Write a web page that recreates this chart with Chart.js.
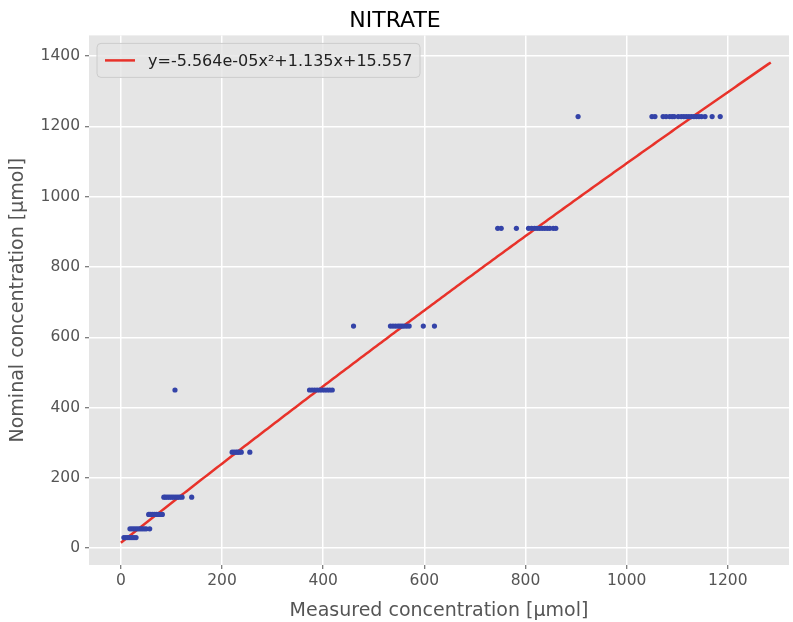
<!DOCTYPE html>
<html>
<head>
<meta charset="utf-8">
<title>NITRATE</title>
<script src="https://cdn.jsdelivr.net/npm/chart.js@4.4.1/dist/chart.umd.min.js"></script>
<style>
  html, body { margin: 0; padding: 0; background: #fff; }
  #wrap { width: 793px; height: 622px; }
</style>
</head>
<body>
<div id="wrap"><canvas id="nitrateChart" width="793" height="622"></canvas></div>
<script>
// measured vs nominal concentration samples
const measured = [
    6, 10, 14, 18, 22, 26, 30,
    18, 22, 26, 30, 34, 38, 42, 46, 50, 57,
    55, 58, 62, 66, 70, 74, 78, 82,
    85, 88, 92, 96, 100, 104, 108, 112, 116, 121, 140,
    107,
    220, 224, 228, 231, 234, 238, 255,
    373, 378, 383, 388, 393, 398, 403, 408, 413, 418,
    460, 533, 538, 543, 548, 552, 556, 560, 565, 570, 598, 620,
    745, 752, 782, 806, 812, 818, 823, 828, 833, 838, 843, 848, 855, 860,
    904, 1050, 1056, 1072, 1078, 1085, 1090, 1094, 1102, 1108, 1113, 1118, 1123, 1128, 1133, 1138, 1143, 1148, 1155, 1169, 1185
];
const nominal = [
    30, 30, 30, 30, 30, 30, 30,
    55, 55, 55, 55, 55, 55, 55, 55, 55, 55,
    96, 96, 96, 96, 96, 96, 96, 96,
    145, 145, 145, 145, 145, 145, 145, 145, 145, 145, 145,
    450,
    273, 273, 273, 273, 273, 273, 273,
    450, 450, 450, 450, 450, 450, 450, 450, 450, 450,
    632, 632, 632, 632, 632, 632, 632, 632, 632, 632, 632, 632,
    910, 910, 910, 910, 910, 910, 910, 910, 910, 910, 910, 910, 910, 910,
    1228, 1228, 1228, 1228, 1228, 1228, 1228, 1228, 1228, 1228, 1228, 1228, 1228, 1228, 1228, 1228, 1228, 1228, 1228, 1228, 1228
];

// quadratic fit: a*x^2 + b*x + c, drawn over this measured range
const fitCoeffs = [-5.564e-05, 1.135, 15.557];
const fitRange = [0, 1285];

const xTicks = [0, 200, 400, 600, 800, 1000, 1200];
const yTicks = [0, 200, 400, 600, 800, 1000, 1200, 1400];

function sciLabel(v) {
    const [m, e] = v.toExponential(3).split('e');
    const sign = e[0] === '-' ? '-' : '+';
    const digits = e.replace(/[+-]/, '').padStart(2, '0');
    return `${m}e${sign}${digits}`;
}
const fitLabel = `y=${sciLabel(fitCoeffs[0])}x²+${fitCoeffs[1]}x+${fitCoeffs[2]}`;

const fitPoints = [];
for (let x = fitRange[0]; x <= fitRange[1]; x += 5) {
    fitPoints.push({ x: x, y: fitCoeffs[0] * x * x + fitCoeffs[1] * x + fitCoeffs[2] });
}
const scatterPoints = measured.map((m, i) => ({ x: m, y: nominal[i] }));

const FONT = 'DejaVu Sans';

const plotBackground = {
    id: 'plotBackground',
    beforeDraw(chart) {
        const { ctx, chartArea: a } = chart;
        ctx.save();
        ctx.fillStyle = '#e5e5e5';
        ctx.fillRect(a.left, a.top, a.right - a.left, a.bottom - a.top);
        ctx.restore();
    }
};

// matplotlib-style legend box in the upper left corner
const fitLegend = {
    id: 'fitLegend',
    afterDatasetsDraw(chart) {
        const { ctx, chartArea: a } = chart;
        const x = a.left + 8, y = a.top + 8, w = 323, h = 34;
        ctx.save();
        ctx.beginPath();
        ctx.roundRect(x, y, w, h, 4);
        ctx.fillStyle = 'rgba(229,229,229,0.8)';
        ctx.fill();
        ctx.strokeStyle = '#cccccc';
        ctx.lineWidth = 1;
        ctx.stroke();
        ctx.beginPath();
        ctx.moveTo(x + 8, y + h / 2);
        ctx.lineTo(x + 38, y + h / 2);
        ctx.strokeStyle = '#e8322a';
        ctx.lineWidth = 2.5;
        ctx.stroke();
        ctx.fillStyle = '#222';
        ctx.font = `16px "${FONT}"`;
        ctx.textBaseline = 'middle';
        ctx.fillText(fitLabel, x + 51, y + h / 2 + 1);
        ctx.restore();
    }
};

const plainTick = v => String(v);

const ctx = document.getElementById('nitrateChart').getContext('2d');
new Chart(ctx, {
    type: 'scatter',
    data: {
        datasets: [
            {
                type: 'line',
                data: fitPoints,
                borderColor: '#e8322a',
                borderWidth: 2.5,
                pointRadius: 0,
                tension: 0,
                fill: false,
                order: 2
            },
            {
                data: scatterPoints,
                backgroundColor: '#3443a8',
                borderColor: '#3443a8',
                borderWidth: 0,
                pointRadius: 2.6,
                order: 1
            }
        ]
    },
    options: {
        responsive: false,
        animation: false,
        layout: { padding: { left: 0, right: 3, top: 0, bottom: 0 } },
        plugins: {
            legend: { display: false },
            tooltip: { enabled: false },
            title: {
                display: true,
                text: 'NITRATE',
                color: '#000',
                font: { family: FONT, size: 22, weight: 'normal' },
                padding: { top: 8, bottom: 1 }
            }
        },
        scales: {
            x: {
                type: 'linear',
                min: -63,
                max: 1321,
                afterFit(scale) { scale.height = 57; },
                afterBuildTicks(scale) { scale.ticks = xTicks.map(v => ({ value: v })); },
                grid: { color: '#ffffff', lineWidth: 1.5, tickColor: '#555', tickLength: 4, tickWidth: 1 },
                border: { display: false },
                ticks: { color: '#555', font: { family: FONT, size: 15.5 }, padding: 3, maxRotation: 0, callback: plainTick },
                title: {
                    display: true,
                    text: 'Measured concentration [μmol]',
                    color: '#555',
                    font: { family: FONT, size: 19 },
                    padding: { top: 0, bottom: 0 }
                }
            },
            y: {
                type: 'linear',
                min: -48,
                max: 1459,
                afterFit(scale) { scale.width = 89; },
                afterBuildTicks(scale) { scale.ticks = yTicks.map(v => ({ value: v })); },
                grid: { color: '#ffffff', lineWidth: 1.5, tickColor: '#555', tickLength: 4, tickWidth: 1 },
                border: { display: false },
                ticks: { color: '#555', font: { family: FONT, size: 15.5 }, padding: 5, callback: plainTick },
                title: {
                    display: true,
                    text: 'Nominal concentration [μmol]',
                    color: '#555',
                    font: { family: FONT, size: 19 },
                    padding: { top: 7, bottom: 0 }
                }
            }
        }
    },
    plugins: [plotBackground, fitLegend]
});
</script>
</body>
</html>
